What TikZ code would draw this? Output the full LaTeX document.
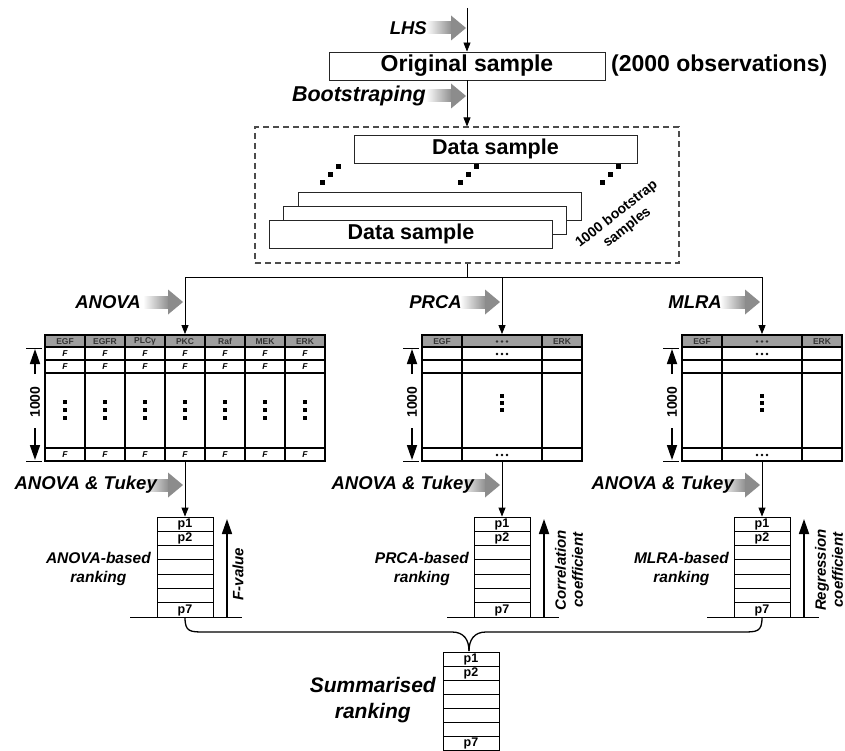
\documentclass[tikz,border=0pt]{standalone}
\usepackage{fontspec}
\setmainfont{Liberation Sans}
\usetikzlibrary{arrows.meta}
\begin{document}
\begin{tikzpicture}[x=1pt,y=-1pt,
  every node/.style={inner sep=0pt},
  box/.style={draw=black!85, line width=0.9pt, fill=white,
    font=\bfseries\fontsize{21.5}{24}\selectfont},
  lbl/.style={font=\bfseries\itshape\fontsize{18.5}{21}\selectfont, anchor=east},
  side/.style={font=\bfseries\itshape\fontsize{15.5}{19}\selectfont, align=center, anchor=east},
  vlab/.style={font=\bfseries\itshape\fontsize{15}{17}\selectfont, align=center, rotate=90},
  arr/.style={-{Triangle[length=9pt,width=7pt]}, line width=0.8pt},
  bigarr/.style={-{Triangle[length=15pt,width=10pt]}, line width=1.7pt},
  frame/.style={draw, line width=1.8pt},
  rankbox/.style={draw, line width=0.8pt, minimum width=56, fill=white},
  hdrtxt/.style={font=\bfseries\fontsize{8.5}{10}\selectfont, text=black!80},
  ftxt/.style={font=\bfseries\itshape\fontsize{8.5}{10}\selectfont},
  ptxt/.style={font=\bfseries\fontsize{12.5}{14}\selectfont},
  garrow/.pic={
    \shade[left color=white, right color=black!45] (-40,-6) rectangle (-14,6);
    \fill[black!45] (-15,-12.5) -- (0,0) -- (-15,12.5) -- cycle;
  },
  dgdots/.pic={
    \foreach \k in {-1,0,1} \fill (8*\k-2.5,-8*\k-2.5) rectangle (8*\k+2.5,-8*\k+2.5);
  },
  vdots/.pic={
    \foreach \k in {-1,0,1} \fill (-2,8*\k-2) rectangle (2,8*\k+2);
  },
  hdots/.pic={
    \foreach \k in {-1,0,1} \fill (5*\k,0) circle (1.4);
  },
]
\useasboundingbox (0,0) rectangle (845,751);

% ---------- original sample and bootstrapping ----------
\coordinate (top) at (467,8);
\node[box, font=\bfseries\fontsize{23}{26}\selectfont,
      minimum width=276, minimum height=28] (orig) at (467,66) {Original sample};
\node[anchor=west, font=\bfseries\fontsize{23}{26}\selectfont] (obs) at (611,66) {(2000 observations)};
\draw[arr] (top) -- (orig.north);
\pic at (466,28) {garrow};
\node[lbl] (lhs) at (427,28) {LHS};

\node[draw=black!70, dashed, dash pattern=on 6pt off 4pt, line width=1.1pt,
      minimum width=424, minimum height=136] (dbox) at (467,195) {};
\draw[arr] (orig.south) -- (dbox.north);
\pic at (466,96) {garrow};
\node[lbl, font=\bfseries\itshape\fontsize{21.5}{24}\selectfont] (boot) at (426,96) {Bootstraping};

% ---------- bootstrap samples ----------
\node[box, minimum width=283, minimum height=28] (dtop) at (495.5,149) {Data sample};
\node[box, minimum width=283, minimum height=28] (dback) at (439.5,206) {};
\node[box, minimum width=283, minimum height=28] (dmid) at (425,220) {};
\node[box, minimum width=283, minimum height=28] (dfront) at (411,234) {Data sample};
\pic at (330,175) {dgdots};
\pic at (468,175) {dgdots};
\pic at (610,175) {dgdots};
\node[rotate=38, align=center, font=\bfseries\fontsize{14}{17}\selectfont] (nboot) at (622,221) {1000 bootstrap\\samples};

% ---------- split to the three methods ----------
\coordinate (split) at (467,277);
\draw[line width=0.8pt] (dbox.south) -- (split);

\node[frame, minimum width=280, minimum height=126] (tA) at (185,398) {};
\node[frame, minimum width=160, minimum height=126] (tP) at (502,398) {};
\node[frame, minimum width=160, minimum height=126] (tM) at (762,398) {};

\draw[arr] (split) -| (tA.north);
\draw[arr] (split) -| (tP.north);
\draw[arr] (split) -| (tM.north);

\pic at (183,302) {garrow};
\node[lbl] (lanova) at (141,302) {ANOVA};
\pic at (500,302) {garrow};
\node[lbl] (lprca) at (462,302) {PRCA};
\pic at (760,302) {garrow};
\node[lbl] (lmlra) at (722,302) {MLRA};

% ---------- ANOVA table ----------
\fill[black!38] (45,335) rectangle (325,347);
\foreach \i/\nm in {0/EGF,1/EGFR,2/PLCγ,3/PKC,4/Raf,5/MEK,6/ERK} {
  \node[hdrtxt] at (65+40*\i,341.5) {\nm};
  \node[ftxt] at (65+40*\i,354) {F};
  \node[ftxt] at (65+40*\i,367) {F};
  \node[ftxt] at (65+40*\i,455) {F};
  \pic at (65+40*\i,410) {vdots};
}
\foreach \i in {1,...,6} \draw[line width=1.5pt] (45+40*\i,335) -- (45+40*\i,461);
\draw[line width=1.8pt] (45,347) -- (325,347);
\draw[line width=1.1pt] (45,360) -- (325,360);
\draw[line width=1.8pt] (45,373) -- (325,373);
\draw[line width=2.6pt] (45,448) -- (325,448);
\draw[line width=1.8pt] (45,335) rectangle (325,461);

% ---------- PRCA and MLRA tables ----------
\foreach \L in {422,682} {
  \fill[black!38] (\L,335) rectangle (\L+160,347);
  \node[hdrtxt] at (\L+20,341.5) {EGF};
  \node[hdrtxt] at (\L+140,341.5) {ERK};
  \pic[black!80] at (\L+80,341.5) {hdots};
  \pic at (\L+80,354) {hdots};
  \pic at (\L+80,455) {hdots};
  \foreach \k in {-1,0,1} \fill (\L+78.3,403+7*\k-1.7) rectangle (\L+81.7,403+7*\k+1.7);
  \draw[line width=1.2pt] (\L+40,335) -- (\L+40,461);
  \draw[line width=1.2pt] (\L+120,335) -- (\L+120,461);
  \draw[line width=1.5pt] (\L,347) -- (\L+160,347);
  \draw[line width=1.1pt] (\L,360) -- (\L+160,360);
  \draw[line width=1.5pt] (\L,373) -- (\L+160,373);
  \draw[line width=2.4pt] (\L,448) -- (\L+160,448);
  \draw[line width=1.8pt] (\L,335) rectangle (\L+160,461);
}

% ---------- row-count markers ----------
\foreach \L in {45,422,682} {
  \draw[line width=1pt] (\L-19,348) -- (\L-3,348);
  \draw[line width=1pt] (\L-19,461) -- (\L-3,461);
  \draw[bigarr] (\L-10,374) -- (\L-10,349);
  \draw[bigarr] (\L-10,428) -- (\L-10,460);
  \node[rotate=90, font=\bfseries\fontsize{14}{16}\selectfont] at (\L-10,402) {1000};
}

% ---------- rankings ----------
\node[rankbox, minimum height=100] (rA) at (185,567) {};
\node[rankbox, minimum height=100] (rP) at (502,567) {};
\node[rankbox, minimum height=100] (rM) at (762,567) {};
\node[rankbox, minimum height=98] (rS) at (471,701) {};

\draw[arr] (tA.south) -- (rA.north);
\draw[arr] (tP.south) -- (rP.north);
\draw[arr] (tM.south) -- (rM.north);

\pic at (183,485) {garrow};
\node[lbl] (tkA) at (157,485) {ANOVA \& Tukey};
\pic at (500,485) {garrow};
\node[lbl] (tkP) at (474,485) {ANOVA \& Tukey};
\pic at (760,485) {garrow};
\node[lbl] (tkM) at (734,485) {ANOVA \& Tukey};

\foreach \c in {185,502,762} {
  \foreach \k in {1,...,6} \draw[line width=0.8pt] (\c-28,517+100/7*\k) -- (\c+28,517+100/7*\k);
  \node[ptxt] at (\c,524.5) {p1};
  \node[ptxt] at (\c,538.5) {p2};
  \node[ptxt] at (\c,610) {p7};
  \draw[line width=1pt] (\c-55,617) -- (\c+57,617);
  \draw[bigarr] (\c+42,617) -- (\c+42,519);
}
\foreach \k in {1,...,6} \draw[line width=0.8pt] (443,652+14*\k) -- (499,652+14*\k);
\node[ptxt] at (471,659) {p1};
\node[ptxt] at (471,673) {p2};
\node[ptxt] at (471,743.5) {p7};

\node[vlab] (fval) at (238,574) {F-value};
\node[vlab] (corr) at (569,570) {Correlation\\coefficient};
\node[vlab] (regr) at (829,570) {Regression\\coefficient};

\node[side] (sA) at (151,569) {ANOVA-based\\ranking};
\node[side] (sP) at (469,569) {PRCA-based\\ranking};
\node[side] (sM) at (729,569) {MLRA-based\\ranking};
\node[side, font=\bfseries\itshape\fontsize{21}{26}\selectfont] (sS) at (436,700) {Summarised\\ranking};

% ---------- merging brace ----------
\draw[line width=1.3pt]
  (rA.south) .. controls (185,632) and (190,632) .. (205,632) -- (452,632)
  .. controls (464,632) and (469,640) .. (469,651);
\draw[line width=1.3pt]
  (rM.south) .. controls (762,632) and (757,632) .. (742,632) -- (486,632)
  .. controls (474,632) and (469,640) .. (469,651);
\end{tikzpicture}
\end{document}
